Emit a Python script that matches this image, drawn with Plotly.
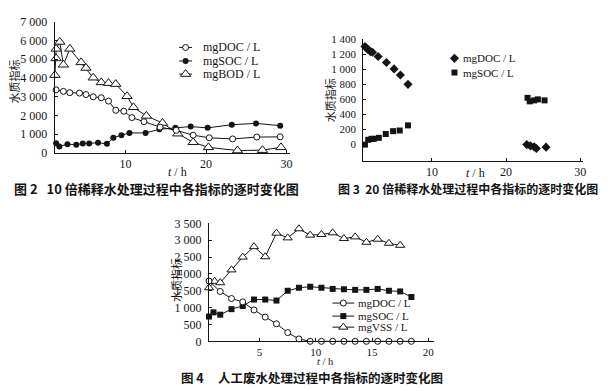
import plotly.graph_objects as go

# ---------------- Data ----------------
# Figure 2: 10x dilution
fig2_t_doc = [1.4, 2.3, 3.1, 4.3, 5.1, 6.0, 7.0, 7.9, 8.8, 9.8, 10.8, 12.3, 14.3, 16.3, 18.4, 20.4, 23.3, 26.3, 29.2]
fig2_doc = [3360, 3280, 3210, 3190, 3110, 2990, 2940, 2760, 2270, 2220, 1880, 1660, 1370, 1200, 940, 800, 740, 840, 850]
fig2_t_soc = [1.4, 1.8, 2.8, 3.9, 4.7, 5.5, 6.6, 7.7, 8.5, 9.5, 10.5, 12.5, 14.2, 16.2, 18.1, 20.2, 23.2, 26.2, 29.2]
fig2_soc = [510, 340, 460, 430, 500, 500, 530, 480, 800, 940, 1060, 1060, 1250, 1330, 1400, 1330, 1500, 1570, 1450]
fig2_t_bod = [1.25, 1.4, 1.4, 1.85, 2.3, 3.1, 4.5, 5.1, 6.0, 7.0, 7.9, 8.8, 10.2, 11.0, 12.6, 14.6, 16.5, 18.4, 20.3, 23.9, 27.0, 29.3]
fig2_bod = [4150, 5040, 5550, 5920, 4700, 5550, 4830, 4530, 4010, 3760, 3720, 3670, 3020, 2430, 1970, 1590, 1020, 560, 290, 120, 140, 290]
fig2_xticks = [10, 20, 30]
fig2_yticks = [0, 1000, 2000, 3000, 4000, 5000, 6000, 7000]
fig2_yticktext = ["0", "1 000", "2 000", "3 000", "4 000", "5 000", "6 000", "7 000"]

# Figure 3: 20x dilution
fig3_t_doc = [0.97, 1.18, 1.41, 1.72, 1.99, 2.75, 3.87, 4.9, 5.75, 6.78, 22.8, 23.3, 23.8, 24.1, 25.4]
fig3_doc = [1306, 1285, 1264, 1238, 1229, 1174, 1093, 1008, 927, 802, 0, -17, -30, -51, -34]
fig3_t_soc = [0.97, 1.41, 1.86, 2.17, 2.84, 3.78, 4.77, 5.66, 6.78, 22.9, 23.2, 23.8, 24.3, 25.2]
fig3_soc = [0, 64, 77, 77, 90, 141, 179, 188, 256, 623, 576, 589, 602, 589]
fig3_xticks = [10, 20, 30]
fig3_yticks = [0, 200, 400, 600, 800, 1000, 1200, 1400]
fig3_yticktext = ["0", "200", "400", "600", "800", "1 000", "1 200", "1 400"]

# Figure 4: artificial wastewater
fig4_t_doc = [0.5, 1.5, 2.5, 3.5, 4.5, 5.5, 6.5, 7.5, 8.5, 9.5, 10.5, 11.5, 12.5, 13.5, 14.5, 15.5, 16.5, 17.5, 18.5]
fig4_doc = [1790, 1480, 1270, 1170, 930, 720, 520, 260, 70, 0, 0, 0, 0, 0, 0, 0, 0, 0, 0]
fig4_t_soc = [0.5, 0.9, 1.5, 2.5, 3.5, 4.5, 5.5, 6.5, 7.5, 8.5, 9.5, 10.5, 11.5, 12.5, 13.5, 14.5, 15.5, 16.5, 17.5, 18.5]
fig4_soc = [735, 860, 790, 955, 1050, 1240, 1240, 1210, 1500, 1590, 1620, 1590, 1555, 1545, 1527, 1527, 1555, 1500, 1480, 1315]
fig4_t_vss = [0.5, 1.0, 1.5, 2.5, 3.5, 4.5, 5.5, 6.5, 7.5, 8.5, 9.5, 10.5, 11.5, 12.5, 13.5, 14.5, 15.5, 16.5, 17.5]
fig4_vss = [1590, 1780, 1740, 2120, 2500, 2810, 2510, 3210, 3070, 3340, 3150, 3170, 3220, 3050, 3100, 2940, 3030, 2910, 2850]
fig4_xticks = [5, 10, 15, 20]
fig4_yticks = [0, 500, 1000, 1500, 2000, 2500, 3000, 3500]
fig4_yticktext = ["0", "500", "1 000", "1 500", "2 000", "2 500", "3 000", "3 500"]

captions = [
    "图\u00a02\u00a0\u00a0\u00a010\u00a0倍稀释水处理过程中各指标的逐时变化图",
    "图\u00a03\u00a0\u00a020\u00a0倍稀释水处理过程中各指标的逐时变化图",
    "图\u00a04\u00a0\u00a0\u00a0\u00a0\u00a0人工废水处理过程中各指标的逐时变化图",
]

# the page shows the figure after the browser's default 8px body margin
OFF = 8
W, H = 612 - OFF, 391 - OFF
INK = "#141414"
SERIF = "Liberation Serif"
CJK = "Noto Sans CJK SC"


def px(x):
    return (x - OFF) / W


def py(y):
    return 1 - (y - OFF) / H


fig = go.Figure()

open_circle = dict(symbol="circle", size=6, color="white", line=dict(color=INK, width=1))
fill_circle = dict(symbol="circle", size=6, color=INK, line=dict(color=INK, width=0))
open_tri = dict(symbol="triangle-up", size=9, color="white", line=dict(color=INK, width=1))
fill_sq = dict(symbol="square", size=6, color=INK, line=dict(color=INK, width=0))
fill_dia = dict(symbol="diamond", size=7, color=INK, line=dict(color=INK, width=0))
open_tri4 = dict(symbol="triangle-up", size=8, color="white", line=dict(color=INK, width=1))

line = dict(color=INK, width=1)

# Fig 2
fig.add_trace(go.Scatter(x=fig2_t_soc, y=fig2_soc, mode="lines+markers", line=line, marker=fill_circle, xaxis="x", yaxis="y", cliponaxis=False))
fig.add_trace(go.Scatter(x=fig2_t_bod, y=fig2_bod, mode="lines+markers", line=line, marker=open_tri, xaxis="x", yaxis="y", cliponaxis=False))
fig.add_trace(go.Scatter(x=fig2_t_doc, y=fig2_doc, mode="lines+markers", line=line, marker=open_circle, xaxis="x", yaxis="y", cliponaxis=False))

# Fig 3
fig.add_trace(go.Scatter(x=fig3_t_doc, y=fig3_doc, mode="markers", marker=fill_dia, xaxis="x2", yaxis="y2", cliponaxis=False))
fig.add_trace(go.Scatter(x=fig3_t_soc, y=fig3_soc, mode="markers", marker=fill_sq, xaxis="x2", yaxis="y2", cliponaxis=False))

# Fig 4
fig.add_trace(go.Scatter(x=fig4_t_vss, y=fig4_vss, mode="lines+markers", line=line, marker=open_tri4, xaxis="x3", yaxis="y3", cliponaxis=False))
fig.add_trace(go.Scatter(x=fig4_t_soc, y=fig4_soc, mode="lines+markers", line=line, marker=fill_sq, xaxis="x3", yaxis="y3", cliponaxis=False))
fig.add_trace(go.Scatter(x=fig4_t_doc, y=fig4_doc, mode="lines+markers", line=line, marker=open_circle, xaxis="x3", yaxis="y3", cliponaxis=False))

# Legend samples drawn in a full-page overlay axis (pixel units)
legend_items = [
    # (x0, x1, xm, y, marker, text, text_x, size)
    (180, 193, 186.5, 41.7, open_circle, "mgDOC / L", 202, 12),
    (180, 193, 186.5, 55.7, fill_circle, "mgSOC / L", 202, 12),
    (180, 193, 186.5, 69.3, open_tri, "mgBOD / L", 202, 12),
    (None, None, 456.7, 53.0, fill_dia, "mgDOC / L", 463, 11),
    (None, None, 456.7, 67.7, fill_sq, "mgSOC / L", 463, 11),
    (334, 356, 345, 307.0, open_circle, "mgDOC / L", 358, 11),
    (334, 356, 345, 320.5, fill_sq, "mgSOC / L", 358, 11),
    (334, 356, 345, 332.0, open_tri4, "mgVSS / L", 358, 11),
]
annotations = []
for x0, x1, xm, yy, mk, txt, tx, fs in legend_items:
    if x0 is not None:
        fig.add_trace(go.Scatter(x=[x0, x1], y=[yy, yy], mode="lines", line=line, xaxis="x4", yaxis="y4", hoverinfo="skip"))
    fig.add_trace(go.Scatter(x=[xm], y=[yy], mode="markers", marker=mk, xaxis="x4", yaxis="y4", hoverinfo="skip"))
    annotations.append(dict(x=px(tx), y=py(yy), xref="paper", yref="paper", text=txt, showarrow=False,
                            xanchor="left", yanchor="middle", font=dict(family=SERIF, size=fs, color=INK)))

# Axis titles
for (x, y) in [(15, 77), (331, 96), (177, 283)]:
    annotations.append(dict(x=px(x), y=py(y), xref="paper", yref="paper", text="水质指标", textangle=-90,
                            showarrow=False, xanchor="center", yanchor="middle",
                            font=dict(family=CJK, size=11, color=INK)))
for (x, y, fs) in [(178, 171, 12), (478, 172, 12), (327, 367.5, 10.5)]:
    annotations.append(dict(x=px(x), y=py(y), xref="paper", yref="paper", text="<i>t</i> / h",
                            showarrow=False, xanchor="center", yanchor="middle",
                            font=dict(family=SERIF, size=fs, color=INK)))

# Captions
for txt, (x, y), fs in zip(captions, [(157, 188), (470, 188), (314, 384.5)], [13, 12, 12.5]):
    annotations.append(dict(x=px(x), y=py(y), xref="paper", yref="paper", text="<b>" + txt + "</b>",
                            showarrow=False, xanchor="center", yanchor="middle",
                            font=dict(family=CJK, size=fs, color=INK)))


def xa(domain, rng, ticks, anchor, fs):
    return dict(domain=domain, range=rng, tickvals=ticks, ticktext=[str(t) for t in ticks], anchor=anchor,
                showline=True, linecolor=INK, linewidth=1.2, ticks="inside", ticklen=3, tickcolor=INK,
                showgrid=False, zeroline=False, tickfont=dict(family=SERIF, size=fs, color=INK),
                ticklabelstandoff=0, fixedrange=True)


def ya(domain, rng, ticks, text, fs, anchor):
    return dict(domain=domain, range=rng, tickvals=ticks, ticktext=text, anchor=anchor,
                showline=True, linecolor=INK, linewidth=1.2, ticks="inside", ticklen=3, tickcolor=INK,
                showgrid=False, zeroline=False, tickfont=dict(family=SERIF, size=fs, color=INK),
                ticklabelstandoff=4, fixedrange=True)


fig.update_layout(
    width=W, height=H,
    margin=dict(l=0, r=0, t=0, b=0),
    paper_bgcolor="white", plot_bgcolor="rgba(0,0,0,0)",
    showlegend=False,
    xaxis=xa([px(55), px(291)], [1.23, 30.37], fig2_xticks, "y", 12),
    yaxis=ya([py(151), py(15)], [0, 7000], fig2_yticks, fig2_yticktext, 12, "x"),
    xaxis2=xa([px(365), px(585.7)], [0.74, 30.36], fig3_xticks, "y2", 12),
    yaxis2=ya([py(159.3), py(32.6)], [-215, 1410], fig3_yticks, fig3_yticktext, 11, "x2"),
    xaxis3=xa([px(210), px(436)], [0.5, 20.5], fig4_xticks, "y3", 11),
    yaxis3=ya([py(346.7), py(224.3)], [0, 3500], fig4_yticks, fig4_yticktext, 12, "x3"),
    xaxis4=dict(domain=[0, 1], range=[OFF, 612], visible=False, fixedrange=True, anchor="y4"),
    yaxis4=dict(domain=[0, 1], range=[391, OFF], visible=False, fixedrange=True, anchor="x4"),
    annotations=annotations,
)

fig.write_html("out.html")
